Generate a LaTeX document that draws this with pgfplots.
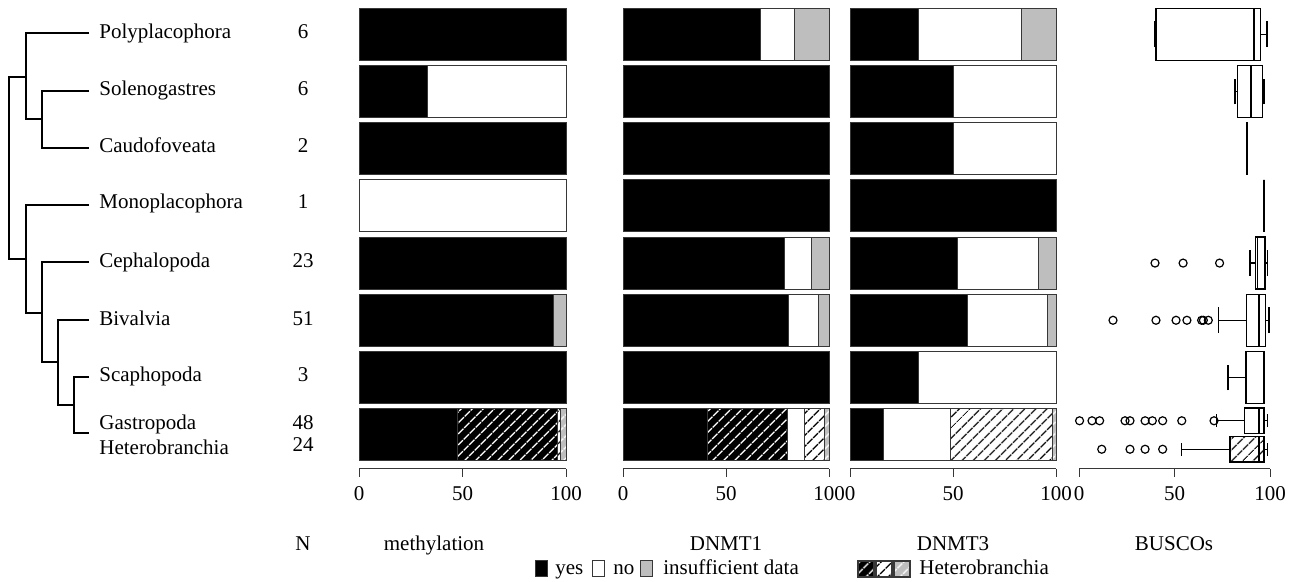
\documentclass[border=0pt]{standalone}
\usepackage{fontspec}
\setmainfont{Liberation Serif}
\usepackage{pgfplots}
\pgfplotsset{compat=1.18}
\usepgfplotslibrary{statistics}
\usetikzlibrary{patterns.meta}
\definecolor{insuf}{RGB}{190,190,190}
\definecolor{bord}{RGB}{55,55,55}
\newcommand\fs{\fontsize{10.5}{12.6}\selectfont}
\pgfplotsset{
  paneltpl/.style={scale only axis, height=234.5pt, xmin=0, xmax=100, ymin=0.4, ymax=8.6,
    axis x line*=bottom, axis y line=none, axis line style={-, bord, line width=0.5pt},
    xtick={0,50,100}, ytick=\empty, tick align=outside, major tick length=4pt,
    every tick/.style={bord, line width=0.5pt},
    xticklabel style={font=\fs, inner sep=2pt, yshift=-2.5pt},
    /pgf/number format/assume math mode=true, clip=false, anchor=north west},
  barpanel/.style={paneltpl, xbar stacked, bar width=26pt},
  seg/.style={draw=bord, line width=0.5pt},
  yesS/.style={seg, fill=black},
  noS/.style={seg, fill=white},
  insS/.style={seg, fill=insuf},
  yesH/.style={seg, fill=black, postaction={pattern={Lines[angle=45,distance=4pt,line width=0.75pt]}, pattern color=white}},
  noH/.style={seg, fill=white, postaction={pattern={Lines[angle=45,distance=4pt,line width=0.75pt]}, pattern color=black}},
  insH/.style={seg, fill=insuf, postaction={pattern={Lines[angle=45,distance=4pt,line width=0.75pt]}, pattern color=white}},
  legH/.style={seg, line width=0.7pt},
  bx/.style={draw=black, line width=0.6pt, solid, mark=o, mark size=2pt,
    mark options={solid, draw=black, fill=none, line width=0.6pt},
    boxplot/every median/.style={line width=0.9pt}},
  tree/.style={black, line width=0.85pt, line join=miter, no marks},
}
\begin{document}
\begin{tikzpicture}
\useasboundingbox (0pt,0pt) rectangle (649pt,-291pt);
% ---------- overlay axis: tree, labels, titles, legend ----------
\begin{axis}[at={(0pt,0pt)}, anchor=north west, scale only axis, width=649pt, height=291pt,
  xmin=0, xmax=1298, ymin=-582, ymax=0, hide axis, clip=false]
\addplot[tree] coordinates {(89,-33) (26,-33) (26,-119) (42,-119)};
\addplot[tree] coordinates {(89,-91) (42,-91) (42,-148) (89,-148)};
\addplot[tree] coordinates {(26,-77) (9,-77) (9,-259) (26,-259)};
\addplot[tree] coordinates {(89,-205) (26,-205) (26,-313) (42,-313)};
\addplot[tree] coordinates {(89,-262) (42,-262) (42,-362) (58,-362)};
\addplot[tree] coordinates {(89,-320) (58,-320) (58,-405) (74,-405)};
\addplot[tree] coordinates {(89,-377) (74,-377) (74,-433) (89,-433)};
\begin{scope}[every node/.style={inner sep=0pt, font=\fs}]
\node[anchor=base west] at (axis cs:99,-39) {Polyplacophora};
\node[anchor=base west] at (axis cs:99,-96) {Solenogastres};
\node[anchor=base west] at (axis cs:99,-153) {Caudofoveata};
\node[anchor=base west] at (axis cs:99,-209) {Monoplacophora};
\node[anchor=base west] at (axis cs:99,-268) {Cephalopoda};
\node[anchor=base west] at (axis cs:99,-326) {Bivalvia};
\node[anchor=base west] at (axis cs:99,-382) {Scaphopoda};
\node[anchor=base west] at (axis cs:99,-430) {Gastropoda};
\node[anchor=base west] at (axis cs:99,-455) {Heterobranchia};
\node[anchor=base] at (axis cs:303,-39) {6};
\node[anchor=base] at (axis cs:303,-96) {6};
\node[anchor=base] at (axis cs:303,-153) {2};
\node[anchor=base] at (axis cs:303,-209) {1};
\node[anchor=base] at (axis cs:303,-268) {23};
\node[anchor=base] at (axis cs:303,-326) {51};
\node[anchor=base] at (axis cs:303,-382) {3};
\node[anchor=base] at (axis cs:303,-430) {48};
\node[anchor=base] at (axis cs:303,-452) {24};
\node[anchor=base] at (axis cs:303,-551) {N};
\node[anchor=base] at (axis cs:434,-551) {methylation};
\node[anchor=base] at (axis cs:726,-551) {DNMT1};
\node[anchor=base] at (axis cs:953,-551) {DNMT3};
\node[anchor=base] at (axis cs:1174,-551) {BUSCOs};
\node[anchor=base west] at (axis cs:555,-575) {yes};
\node[anchor=base west] at (axis cs:613,-575) {no};
\node[anchor=base west] at (axis cs:663,-575) {insufficient data};
\node[anchor=base west] at (axis cs:919,-575) {Heterobranchia};
\end{scope}
\addplot[yesS] coordinates {(535,-561) (547,-561) (547,-577) (535,-577)} -- cycle;
\addplot[noS] coordinates {(592,-561) (604,-561) (604,-577) (592,-577)} -- cycle;
\addplot[insS] coordinates {(640,-561) (652,-561) (652,-577) (640,-577)} -- cycle;
\addplot[yesH, legH] coordinates {(858,-561) (874,-561) (874,-577) (858,-577)} -- cycle;
\addplot[noH, legH] coordinates {(876,-561) (892,-561) (892,-577) (876,-577)} -- cycle;
\addplot[insH, legH] coordinates {(894,-561) (910,-561) (910,-577) (894,-577)} -- cycle;
\end{axis}
% ---------- methylation ----------
\begin{axis}[barpanel, at={(179.5pt,0pt)}, width=103.5pt]
\addplot[yesS] coordinates {(100,8) (33.3,7) (100,6) (0,5) (100,4) (94.1,3) (100,2) (47.4,1)};
\addplot[yesH] coordinates {(0,8) (0,7) (0,6) (0,5) (0,4) (0,3) (0,2) (48.6,1)};
\addplot[noS] coordinates {(0,8) (66.7,7) (0,6) (100,5) (0,4) (0,3) (0,2) (0,1)};
\addplot[noH] coordinates {(0,8) (0,7) (0,6) (0,5) (0,4) (0,3) (0,2) (1.2,1)};
\addplot[insS] coordinates {(0,8) (0,7) (0,6) (0,5) (0,4) (5.9,3) (0,2) (0,1)};
\addplot[insH] coordinates {(0,8) (0,7) (0,6) (0,5) (0,4) (0,3) (0,2) (2.8,1)};
\end{axis}
% ---------- DNMT1 ----------
\begin{axis}[barpanel, at={(311.5pt,0pt)}, width=103pt]
\addplot[yesS] coordinates {(66.7,8) (100,7) (100,6) (100,5) (78.3,4) (80.5,3) (100,2) (41.1,1)};
\addplot[yesH] coordinates {(0,8) (0,7) (0,6) (0,5) (0,4) (0,3) (0,2) (38.7,1)};
\addplot[noS] coordinates {(16.7,8) (0,7) (0,6) (0,5) (13.0,4) (14.6,3) (0,2) (8.1,1)};
\addplot[noH] coordinates {(0,8) (0,7) (0,6) (0,5) (0,4) (0,3) (0,2) (9.7,1)};
\addplot[insS] coordinates {(16.6,8) (0,7) (0,6) (0,5) (8.7,4) (4.9,3) (0,2) (0,1)};
\addplot[insH] coordinates {(0,8) (0,7) (0,6) (0,5) (0,4) (0,3) (0,2) (2.4,1)};
\end{axis}
% ---------- DNMT3 ----------
\begin{axis}[barpanel, at={(425pt,0pt)}, width=103pt]
\addplot[yesS] coordinates {(33.3,8) (50,7) (50,6) (100,5) (52.2,4) (56.9,3) (33.3,2) (16.5,1)};
\addplot[yesH] coordinates {(0,8) (0,7) (0,6) (0,5) (0,4) (0,3) (0,2) (0,1)};
\addplot[noS] coordinates {(50,8) (50,7) (50,6) (0,5) (39.1,4) (39.2,3) (66.7,2) (32.4,1)};
\addplot[noH] coordinates {(0,8) (0,7) (0,6) (0,5) (0,4) (0,3) (0,2) (49.2,1)};
\addplot[insS] coordinates {(16.7,8) (0,7) (0,6) (0,5) (8.7,4) (3.9,3) (0,2) (0,1)};
\addplot[insH] coordinates {(0,8) (0,7) (0,6) (0,5) (0,4) (0,3) (0,2) (1.9,1)};
\end{axis}
% ---------- BUSCOs ----------
\begin{axis}[paneltpl, at={(539.5pt,0pt)}, width=95.5pt, boxplot/draw direction=x]
\addplot[bx, boxplot prepared={draw position=8, box extend=0.909, whisker extend=0.45,
  lower whisker=39.4, lower quartile=40.3, median=91.6, upper quartile=95.1, upper whisker=98.4}] coordinates {};
\addplot[bx, boxplot prepared={draw position=7, box extend=0.909, whisker extend=0.45,
  lower whisker=81.7, lower quartile=83.1, median=89.9, upper quartile=96.0, upper whisker=96.9}] coordinates {};
\addplot[bx, boxplot prepared={draw position=6, box extend=0.909, whisker extend=0.45,
  lower whisker=87.8, lower quartile=87.8, median=88.1, upper quartile=88.4, upper whisker=88.4}] coordinates {};
\addplot[bx, boxplot prepared={draw position=5, box extend=0.909, whisker extend=0.45,
  lower whisker=96.9, lower quartile=96.9, median=96.9, upper quartile=96.9, upper whisker=96.9}] coordinates {};
\addplot[bx, boxplot prepared={draw position=4, box extend=0.909, whisker extend=0.45,
  lower whisker=89.5, lower quartile=92.3, median=93.5, upper quartile=97.4, upper whisker=98.6}]
  table[row sep=\\, y index=0] {v\\ 39.8\\ 54.5\\ 73.6\\};
\addplot[bx, boxplot prepared={draw position=3, box extend=0.909, whisker extend=0.45,
  lower whisker=73.1, lower quartile=87.6, median=94.1, upper quartile=97.7, upper whisker=99.5}]
  table[row sep=\\, y index=0] {v\\ 17.8\\ 40.3\\ 50.8\\ 56.5\\ 64.2\\ 65.1\\ 67.7\\};
\addplot[bx, boxplot prepared={draw position=2, box extend=0.909, whisker extend=0.45,
  lower whisker=78.0, lower quartile=87.4, median=96.9, upper quartile=96.9, upper whisker=96.9}] coordinates {};
\addplot[bx, boxplot prepared={draw position=1.243, box extend=0.446, whisker extend=0.22,
  lower whisker=72.1, lower quartile=86.6, median=94.2, upper quartile=96.9, upper whisker=98.6}]
  table[row sep=\\, y index=0] {v\\ 0.3\\ 6.8\\ 10.8\\ 24.1\\ 26.7\\ 34.6\\ 38.4\\ 43.8\\ 53.8\\ 70.7\\};
\addplot[bx, boxplot/every box/.append style={postaction={pattern={Lines[angle=45,distance=4pt,line width=0.7pt]}, pattern color=black}},
  boxplot prepared={draw position=0.745, box extend=0.446, whisker extend=0.22,
  lower whisker=53.8, lower quartile=79.1, median=94.4, upper quartile=96.9, upper whisker=98.6}]
  table[row sep=\\, y index=0] {v\\ 11.9\\ 26.7\\ 34.6\\ 43.8\\};
\end{axis}
\end{tikzpicture}
\end{document}
